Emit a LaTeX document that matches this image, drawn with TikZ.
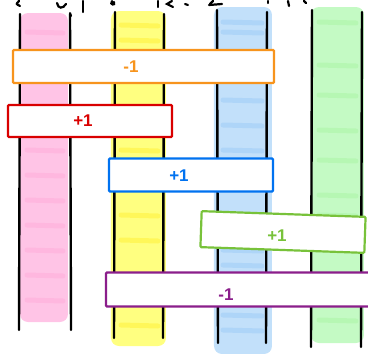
\documentclass[tikz,border=0pt]{standalone}
\usepackage{fontspec}
\setmainfont{Liberation Sans}
\begin{document}
\begin{tikzpicture}[x=1pt,y=-1pt,
  rail/.style={black,line width=2.4pt,line cap=round},
  band/.style={line width=0pt,rounded corners=8pt},
  stripe/.style={line width=5pt,line cap=round},
  tally/.style={fill=white,line width=2.2pt,rounded corners=1pt},
  lbl/.style={font=\bfseries\fontsize{17}{17}\selectfont},
  scrib/.style={black,line width=2.2pt,line cap=round}]
\useasboundingbox (0,0) rectangle (368,354);
\definecolor{cpink}{HTML}{FFC4E6}
\definecolor{cpinkd}{HTML}{FFA8D8}
\definecolor{cyel}{HTML}{FFFF80}
\definecolor{cyeld}{HTML}{FFF23A}
\definecolor{cblue}{HTML}{C2E0FA}
\definecolor{cblued}{HTML}{9FCCF7}
\definecolor{cgrn}{HTML}{C4FAC4}
\definecolor{cgrnd}{HTML}{A6F5A0}
\definecolor{borange}{HTML}{F7941D}
\definecolor{bred}{HTML}{D90000}
\definecolor{bblue}{HTML}{0072F0}
\definecolor{bgreen}{HTML}{78C23A}
\definecolor{bpurple}{HTML}{8B1E8B}
% colour bands
\fill[cpink,band] (20,13) rectangle (68,322);
\fill[cyel,band] (111,11) rectangle (166,346);
\fill[cblue,band] (214,7) rectangle (272,354);
\fill[cgrn,band] (311,7) rectangle (364,343);
\foreach \y in {32,70,150,175,200,225,250,275,300}
  \draw[cpinkd,stripe,opacity=.45] (27,\y) -- (63,\y+1);
\foreach \y in {25,40,150,170,215,240,300,325}
  \draw[cyeld,stripe,opacity=.55] (121,\y) -- (158,\y+1);
\foreach \y in {22,32,100,125,150,215,250,265,315,330}
  \draw[cblued,stripe,opacity=.55] (223,\y) -- (262,\y+1);
\foreach \y in {22,65,95,130,160,195,215,290,320}
  \draw[cgrnd,stripe,opacity=.45] (319,\y) -- (356,\y+1);
% rails
\draw[rail] (20,14) -- (19,330);
\draw[rail] (70,14) -- (71,330);
\draw[rail] (115,12) -- (114,338);
\draw[rail] (164,14) -- (163,338);
\draw[rail] (217,10) -- (218,343);
\draw[rail] (267,12) -- (266,343);
\draw[rail] (312,10) -- (311,347);
\draw[rail] (362,12) -- (361,347);
% scribbles at top (cut-off handwriting)
\draw[scrib] (19,1) .. controls (16,4) .. (20,6);
\draw[scrib] (57,3) .. controls (58,9) and (63,9) .. (66,4);
\draw[scrib] (70,13) -- (71,16);
\draw[scrib] (83,1) -- (83,12);
\draw[scrib] (112,1) .. controls (109,5) and (116,6) .. (114,2);
\draw[scrib] (158,1) -- (158,7);
\draw[scrib] (172,1) -- (167,4) -- (173,7);
\draw[scrib] (185,4) -- (188,5);
\draw[scrib] (209,5) -- (222,4);
\draw[scrib] (213,1) -- (210,4);
\draw[scrib] (268,1) -- (268,3);
\draw[scrib] (288,1) -- (289,6);
\draw[scrib] (304,1) -- (306,3);
% tally boxes
\node[tally,draw=borange,minimum width=261,minimum height=33,inner sep=0] (minusA) at (143.5,66.5) {};
\node[lbl,text=borange] (minusAl) at (131,67) {-1};
\node[tally,draw=bred,minimum width=164,minimum height=32,inner sep=0] (plusA) at (90,121) {};
\node[lbl,text=bred] (plusAl) at (83,121) {+1};
\node[tally,draw=bblue,minimum width=164,minimum height=33,inner sep=0] (plusB) at (191,175) {};
\node[lbl,text=bblue] (plusBl) at (179,176) {+1};
\node[tally,draw=bgreen,minimum width=164,minimum height=36,inner sep=0,rotate=-2] (plusC) at (283,232) {};
\node[lbl,text=bgreen] (plusCl) at (277,236) {+1};
\node[tally,draw=bpurple,minimum width=268,minimum height=34,inner sep=0] (minusB) at (240,289.5) {};
\node[lbl,text=bpurple] (minusBl) at (226,295) {-1};
\end{tikzpicture}
\end{document}
